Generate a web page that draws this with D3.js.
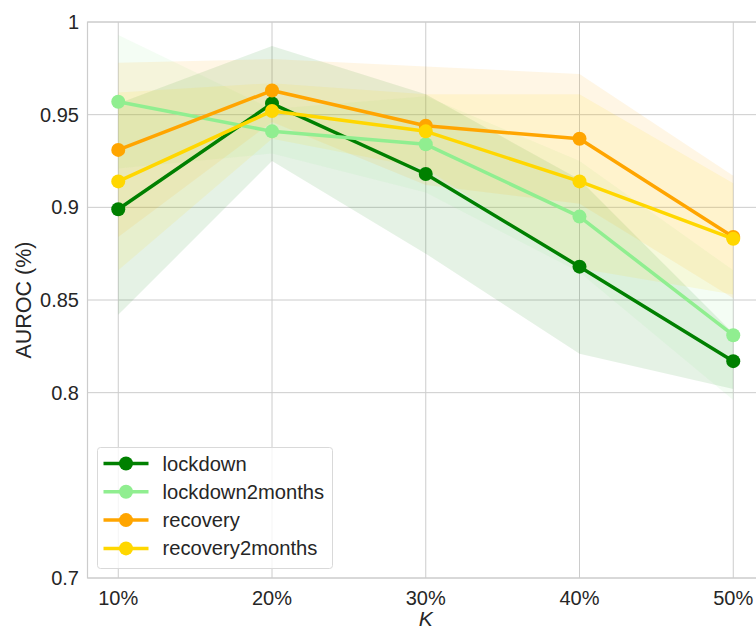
<!DOCTYPE html>
<html>
<head>
<meta charset="utf-8">
<script src="https://cdn.jsdelivr.net/npm/d3@7"></script>
<style>
  body { margin: 0; background: #fff; }
  text { font-family: "Liberation Sans", Arial, sans-serif; fill: #262626; }
</style>
</head>
<body>
<div id="chart"></div>
<script>
// categories and tick labels
const kLabels = ["10%", "20%", "30%", "40%", "50%"];
const yTicks = [0.7, 0.8, 0.85, 0.9, 0.95, 1];
const yTickLabels = ["0.7", "0.8", "0.85", "0.9", "0.95", "1"];

// series means
const lockdown = [0.899, 0.956, 0.918, 0.868, 0.817];
const lockdown2months = [0.957, 0.941, 0.934, 0.895, 0.831];
const recovery = [0.931, 0.963, 0.944, 0.937, 0.884];
const recovery2months = [0.914, 0.952, 0.941, 0.914, 0.883];

// half-width of the shaded bands
const lockdownErr = [0.057, 0.031, 0.043, 0.047, 0.015];
const lockdown2monthsErr = [0.036, 0.012, 0.026, 0.030, 0.035];
const recoveryErr = [0.047, 0.017, 0.032, 0.035, 0.033];
const recovery2monthsErr = [0.048, 0.015, 0.020, 0.047, 0.030];

const seriesNames = ["lockdown", "lockdown2months", "recovery", "recovery2months"];
const seriesColors = ["#008000", "#90ee90", "#ffa500", "#ffd700"];

const series = [
  { name: seriesNames[0], color: seriesColors[0], values: lockdown, err: lockdownErr },
  { name: seriesNames[1], color: seriesColors[1], values: lockdown2months, err: lockdown2monthsErr },
  { name: seriesNames[2], color: seriesColors[2], values: recovery, err: recoveryErr },
  { name: seriesNames[3], color: seriesColors[3], values: recovery2months, err: recovery2monthsErr }
];

const width = 756, height = 629;
const plot = { left: 87.5, top: 22, bottom: 578, right: 764 };

const svg = d3.select("#chart")
  .append("svg")
  .attr("width", width)
  .attr("height", height);

const x = d3.scaleLinear()
  .domain([-0.2, kLabels.length - 1 + 0.2])
  .range([plot.left, plot.right]);

const y = d3.scaleLinear()
  .domain([0.7, 1])
  .range([plot.bottom, plot.top]);

// grid
svg.append("g")
  .selectAll("line")
  .data(yTicks)
  .join("line")
  .attr("x1", plot.left).attr("x2", plot.right)
  .attr("y1", d => y(d)).attr("y2", d => y(d))
  .attr("stroke", "#cccccc").attr("stroke-width", 1);

svg.append("g")
  .selectAll("line")
  .data(kLabels)
  .join("line")
  .attr("x1", (d, i) => x(i)).attr("x2", (d, i) => x(i))
  .attr("y1", plot.top).attr("y2", plot.bottom)
  .attr("stroke", "#cccccc").attr("stroke-width", 1);

// spines
svg.append("path")
  .attr("d", `M${plot.right},${plot.top}H${plot.left}V${plot.bottom}H${plot.right}`)
  .attr("fill", "none")
  .attr("stroke", "#cccccc")
  .attr("stroke-width", 1.2);

// bands
const area = d3.area()
  .x((d, i) => x(i))
  .y0(d => y(d[0] - d[1]))
  .y1(d => y(d[0] + d[1]));

series.forEach(s => {
  svg.append("path")
    .datum(s.values.map((v, i) => [v, s.err[i]]))
    .attr("d", area)
    .attr("fill", s.color)
    .attr("fill-opacity", 0.1);
});

// lines and markers
const line = d3.line().x((d, i) => x(i)).y(d => y(d));

series.forEach(s => {
  svg.append("path")
    .datum(s.values)
    .attr("d", line)
    .attr("fill", "none")
    .attr("stroke", s.color)
    .attr("stroke-width", 3.5)
    .attr("stroke-linejoin", "round");

  svg.append("g")
    .selectAll("circle")
    .data(s.values)
    .join("circle")
    .attr("cx", (d, i) => x(i))
    .attr("cy", d => y(d))
    .attr("r", 7)
    .attr("fill", s.color);
});

// tick labels
svg.append("g")
  .selectAll("text")
  .data(yTicks)
  .join("text")
  .attr("x", 79)
  .attr("y", d => y(d))
  .attr("dy", "0.35em")
  .attr("text-anchor", "end")
  .style("font-size", "20px")
  .text((d, i) => yTickLabels[i]);

svg.append("g")
  .selectAll("text")
  .data(kLabels)
  .join("text")
  .attr("x", (d, i) => x(i))
  .attr("y", 605)
  .attr("text-anchor", "middle")
  .style("font-size", "20px")
  .text(d => d);

// axis titles
svg.append("text")
  .attr("transform", `translate(31,${(plot.top + plot.bottom) / 2}) rotate(-90)`)
  .attr("text-anchor", "middle")
  .style("font-size", "21.5px")
  .text("AUROC (%)");

svg.append("text")
  .attr("x", x(2))
  .attr("y", 626)
  .attr("text-anchor", "middle")
  .style("font-size", "21px")
  .style("font-style", "italic")
  .text("K");

// legend
const legend = svg.append("g").attr("transform", "translate(97.5,447.5)");
legend.append("rect")
  .attr("width", 235)
  .attr("height", 121)
  .attr("rx", 3)
  .attr("fill", "#fff")
  .attr("fill-opacity", 0.8)
  .attr("stroke", "#d9d9d9");

series.forEach((s, i) => {
  const row = legend.append("g").attr("transform", `translate(0,${16 + i * 28.3})`);
  row.append("line")
    .attr("x1", 6).attr("x2", 51)
    .attr("stroke", s.color).attr("stroke-width", 3.5);
  row.append("circle")
    .attr("cx", 28.5).attr("r", 7).attr("fill", s.color);
  row.append("text")
    .attr("x", 65)
    .attr("dy", "0.35em")
    .style("font-size", "20.2px")
    .text(s.name);
});
</script>
</body>
</html>
